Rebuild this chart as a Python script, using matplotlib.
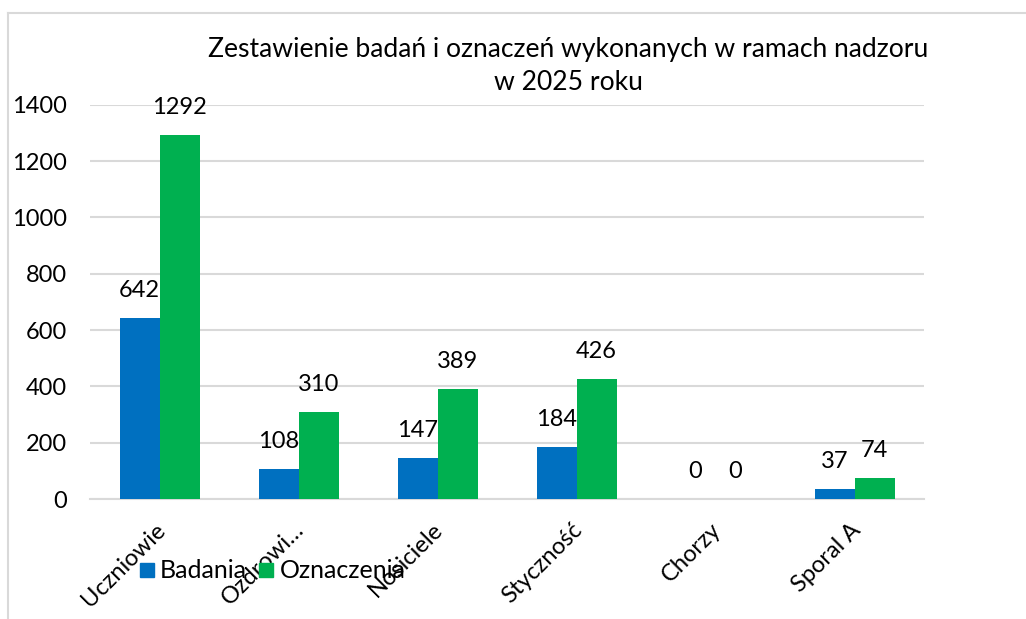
import matplotlib
matplotlib.use("Agg")
import matplotlib.pyplot as plt
import matplotlib.transforms as mtransforms
import numpy as np
from matplotlib.lines import Line2D

plt.rcParams['font.family'] = ['Lato', 'DejaVu Sans']

categories = ["Uczniowie", "Ozdrowi…", "Nosiciele", "Styczność", "Chorzy", "Sporal A"]
badania = [642, 108, 147, 184, 0, 37]
oznaczenia = [1292, 310, 389, 426, 0, 74]
series_names = ["Badania", "Oznaczenia"]
title_lines = ["Zestawienie badań i oznaczeń wykonanych w ramach nadzoru", "w 2025 roku"]

BLUE = "#0070C0"
GREEN = "#00B050"
GRID = "#D9D9D9"

W, H = 1026, 619
fig = plt.figure(figsize=(W / 100, H / 100), dpi=100)
ax = fig.add_axes([90 / W, 1 - 499 / H, (924 - 90) / W, (499 - 104.7) / H])

x = np.arange(len(categories))
bw = 40 / 139
b1 = ax.bar(x - bw / 2, badania, bw, color=BLUE, zorder=3)
b2 = ax.bar(x + bw / 2, oznaczenia, bw, color=GREEN, zorder=3)

for bars, vals in ((b1, badania), (b2, oznaczenia)):
    for r, v in zip(bars, vals):
        ax.annotate(str(v), (r.get_x() + r.get_width() / 2, v),
                    xytext=(0, 21), textcoords='offset pixels',
                    ha='center', va='baseline', fontsize=17, color='#000000')

ax.set_xlim(-0.5, len(categories) - 0.5)
ax.set_ylim(0, 1400)
ax.set_yticks(np.arange(0, 1401, 200))
ax.yaxis.grid(True, color=GRID, linewidth=1.5, zorder=0)
ax.set_axisbelow(True)
for s in ('top', 'right', 'left'):
    ax.spines[s].set_visible(False)
ax.spines['bottom'].set_color(GRID)
ax.spines['bottom'].set_linewidth(1.5)
ax.spines['bottom'].set_zorder(1)
ax.tick_params(axis='y', length=0, pad=16.5, labelsize=17)
ax.tick_params(axis='x', length=0, pad=13, labelsize=17)
ax.set_xticks(x)
ax.set_xticklabels(categories, rotation=45, ha='right', va='top', rotation_mode='anchor')
shift = mtransforms.ScaledTranslation(-5 / 100, -2 / 100, fig.dpi_scale_trans)
for lbl in ax.get_xticklabels():
    lbl.set_transform(lbl.get_transform() + shift)

# Title
tx = 568 / W
fig.text(tx, 1 - 57.3 / H, title_lines[0], ha='center', va='baseline', fontsize=19.1)
fig.text(tx, 1 - 89.5 / H, title_lines[1], ha='center', va='baseline', fontsize=19.1)

# Legend
handles = [Line2D([], [], marker='s', linestyle='none', markersize=9.5, color=BLUE),
           Line2D([], [], marker='s', linestyle='none', markersize=9.5, color=GREEN)]
fig.legend(handles, series_names, loc='center left', bbox_to_anchor=(139 / W, 1 - 571 / H),
           ncol=2, frameon=False, fontsize=18, handlelength=0.6, handletextpad=0.25,
           columnspacing=0.45, borderaxespad=0, borderpad=0)

# Border (top and left visible)
fig.add_artist(Line2D([8 / W, 1], [1 - 13 / H, 1 - 13 / H], color=GRID, linewidth=1.5,
                      transform=fig.transFigure))
fig.add_artist(Line2D([8 / W, 8 / W], [0, 1 - 13 / H], color=GRID, linewidth=1.5,
                      transform=fig.transFigure))

fig.savefig("out.png", dpi=100, facecolor='white')
